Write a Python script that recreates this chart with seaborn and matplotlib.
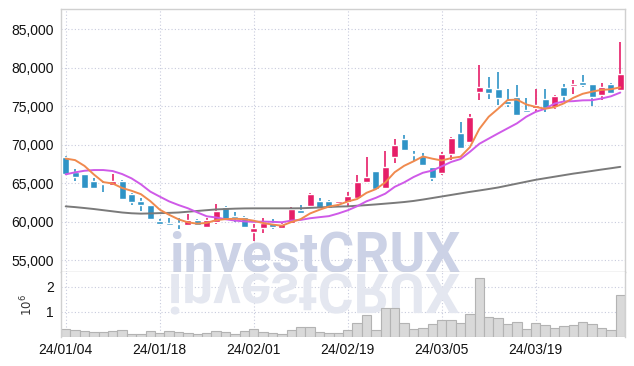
import pandas as pd
import seaborn as sns
import matplotlib.pyplot as plt
from matplotlib.ticker import FuncFormatter
from matplotlib.textpath import TextPath
from matplotlib.patches import PathPatch
from matplotlib.font_manager import FontProperties
from matplotlib.transforms import Affine2D, IdentityTransform

# OHLC (KRW), 60 trading days 24/01/04 .. 24/04/01
opens = [68440, 66420, 66200, 65290, 64940, 64800, 65290, 63640, 62730, 62170,
         60130, 59870, 59800, 59610, 60220, 59350, 60000, 61870, 60780, 60570,
         58700, 59220, 59790, 59140, 59830, 61560, 62010, 62730, 62730, 62470,
         62600, 63040, 65200, 66580, 64420, 68440, 70700, 68800, 68530, 67070,
         66290, 68750, 71480, 70390, 76880, 77330, 77230, 75680, 76160, 74510,
         74810, 76000, 74940, 77460, 77660, 78100, 77880, 76420, 77880, 77100]
highs = [68500, 66840, 66250, 65640, 65330, 66200, 65400, 63700, 63040, 62200,
         60400, 60520, 60440, 60960, 60350, 60480, 62300, 62040, 61260, 60700,
         59660, 60440, 60310, 59920, 61870, 62170, 63690, 63050, 62800, 62730,
         63820, 66030, 68360, 66650, 69180, 70700, 71260, 69140, 68960, 67150,
         69090, 71040, 72990, 73950, 80350, 78830, 79480, 77200, 77750, 76100,
         77200, 77200, 76460, 77840, 78400, 79050, 77950, 77970, 78050, 83380]
lows = [66150, 65290, 64350, 64210, 63900, 64640, 62820, 62170, 61430, 60300,
        59700, 59500, 59010, 59550, 59400, 59270, 59660, 60300, 60000, 59200,
        57490, 58490, 59090, 59050, 59830, 61100, 61950, 61520, 61700, 61870,
        61950, 62900, 65150, 64100, 64210, 67660, 69300, 67840, 67300, 65290,
        66100, 68010, 69500, 70260, 75810, 75900, 75160, 74940, 73800, 74080,
        74290, 74210, 74680, 75710, 76580, 77500, 75030, 75810, 76600, 77000]
closes = [66200, 65840, 64420, 64420, 64860, 65290, 62950, 62600, 62210, 60350,
          59740, 59610, 59660, 60220, 59530, 60220, 61390, 60350, 60440, 59270,
          59220, 59870, 59350, 59700, 61650, 61130, 63560, 61740, 61780, 62730,
          63340, 65160, 65770, 64210, 67070, 69960, 69310, 68700, 67360, 65640,
          68790, 70830, 69610, 73560, 77460, 76750, 76030, 75250, 73860, 74290,
          75160, 74830, 76330, 76290, 77880, 77790, 76230, 77460, 76680, 79180]
# closes of the days before the window, estimated from where the MA lines start
closes_before = [63240, 62350, 63510, 64860, 66590, 66840, 68190, 70000, 69800]
# 60-day average as drawn (grey line)
ma60 = [62000, 61900, 61780, 61650, 61500, 61350, 61200, 61100, 61050, 61080,
        61120, 61150, 61200, 61300, 61400, 61500, 61600, 61650, 61700, 61730,
        61740, 61740, 61740, 61740, 61740, 61750, 61800, 61850, 61920, 61970,
        62000, 62080, 62160, 62250, 62350, 62450, 62560, 62700, 62880, 63080,
        63280, 63480, 63680, 63880, 64060, 64250, 64450, 64700, 64950, 65200,
        65450, 65650, 65850, 66050, 66250, 66420, 66600, 66780, 66950, 67130]
# volume in millions of shares
volumes = [0.34, 0.30, 0.23, 0.22, 0.19, 0.26, 0.30, 0.14, 0.14, 0.26,
           0.15, 0.26, 0.22, 0.18, 0.13, 0.15, 0.23, 0.19, 0.14, 0.26,
           0.34, 0.19, 0.18, 0.14, 0.30, 0.39, 0.39, 0.20, 0.15, 0.15,
           0.27, 0.58, 0.86, 0.30, 1.16, 1.16, 0.57, 0.31, 0.36, 0.53,
           0.67, 0.67, 0.57, 0.92, 2.33, 0.80, 0.75, 0.53, 0.61, 0.34,
           0.57, 0.49, 0.38, 0.45, 0.49, 0.61, 0.53, 0.38, 0.30, 1.66]
tick_labels = ['24/01/04', '24/01/18', '24/02/01', '24/02/19', '24/03/05', '24/03/19']

sns.set_theme(style='white')
plt.rcParams['font.family'] = ['Liberation Sans', 'DejaVu Sans']

df = pd.DataFrame({'idx': range(len(closes)), 'open': opens, 'high': highs,
                   'low': lows, 'close': closes, 'volume': volumes, 'ma60': ma60})
allc = pd.Series(closes_before + closes)
df['ma5'] = allc.rolling(5).mean().iloc[len(closes_before):].values
df['ma10'] = allc.rolling(10).mean().iloc[len(closes_before):].values

RED = '#e61e68'
BLUE = '#2f93c6'
up = df['close'] >= df['open']
cols = [RED if u else BLUE for u in up]

W, H = 634, 366
fig = plt.figure(figsize=(W / 100, H / 100), dpi=100)
ax = fig.add_axes([61 / W, 1 - 272.3 / H, 564 / W, 263.3 / H])
axv = fig.add_axes([61 / W, 1 - 337.3 / H, 564 / W, 65 / H])

# candles
body_lo = df[['open', 'close']].min(axis=1)
body_h = (df['close'] - df['open']).abs().clip(lower=110)
ax.vlines(df['idx'], df['low'], df['high'], color=cols, lw=1.2, zorder=3)
ax.bar(df['idx'], body_h, bottom=body_lo, width=0.74, color=cols, zorder=4)

# moving averages
sns.lineplot(data=df, x='idx', y='ma60', color='#7a7a7a', lw=1.4, ax=ax, zorder=5)
sns.lineplot(data=df, x='idx', y='ma10', color='#cf5ae8', lw=1.4, ax=ax, zorder=5)
sns.lineplot(data=df, x='idx', y='ma5', color='#f08a4e', lw=1.4, ax=ax, zorder=5)

# volume
sns.barplot(x=df['idx'], y=df['volume'], native_scale=True, width=1, color='#d9d9d9',
            saturation=1, edgecolor='#b3b3b3', linewidth=0.8, errorbar=None, ax=axv, zorder=2)

grid_kw = dict(color='#c8cbdd', linestyle=(0, (1, 2)), lw=0.8)
for a in (ax, axv):
    a.set_xlim(-0.5, 59.5)
    a.set_xticks(range(0, 60, 10))
    a.grid(True, **grid_kw)
    a.set_axisbelow(True)
    a.tick_params(length=0, pad=5, labelsize=10, labelcolor='#111111')
    a.set_xlabel('')
    a.set_ylabel('')
    for s in a.spines.values():
        s.set_color('#d0d0d0')
        s.set_linewidth(1)

ax.set_ylim(53430, 87640)
ax.set_yticks(range(55000, 85001, 5000))
ax.yaxis.set_major_formatter(FuncFormatter(lambda v, p: f'{v:,.0f}'))
ax.tick_params(labelbottom=False)
ax.spines['bottom'].set_color('#c4c4c4')

axv.set_ylim(0, 2.56)
axv.set_yticks([1, 2])
axv.set_yticklabels(['1', '2'])
axv.set_xticklabels(tick_labels)
axv.tick_params(axis='x', pad=4)
axv.spines['bottom'].set_visible(False)
axv.spines['top'].set_visible(False)
axv.set_ylabel('$10^6$', fontsize=8.5, color='#333333', labelpad=8)

# watermark and its reflection
ax.text(315 / W, 1 - 271 / H, 'investCRUX', transform=fig.transFigure, ha='center',
        va='baseline', fontsize=39.5, family='Roboto', weight='bold',
        color='#ccd2e6', zorder=1, clip_on=False)
tp = TextPath((0, 0), 'investCRUX', size=55, prop=FontProperties(family='Roboto', weight='bold'))
ext = tp.get_extents()
x0 = 315 - (ext.x0 + ext.x1) / 2
base_px = 366 - 274
tr = Affine2D().scale(1, -1).translate(x0, base_px)
axv.add_patch(PathPatch(tr.transform_path(tp), transform=IdentityTransform(),
                        facecolor='#e4e7f0', edgecolor='none', zorder=1, clip_on=False))

fig.savefig('out.png', dpi=100)
